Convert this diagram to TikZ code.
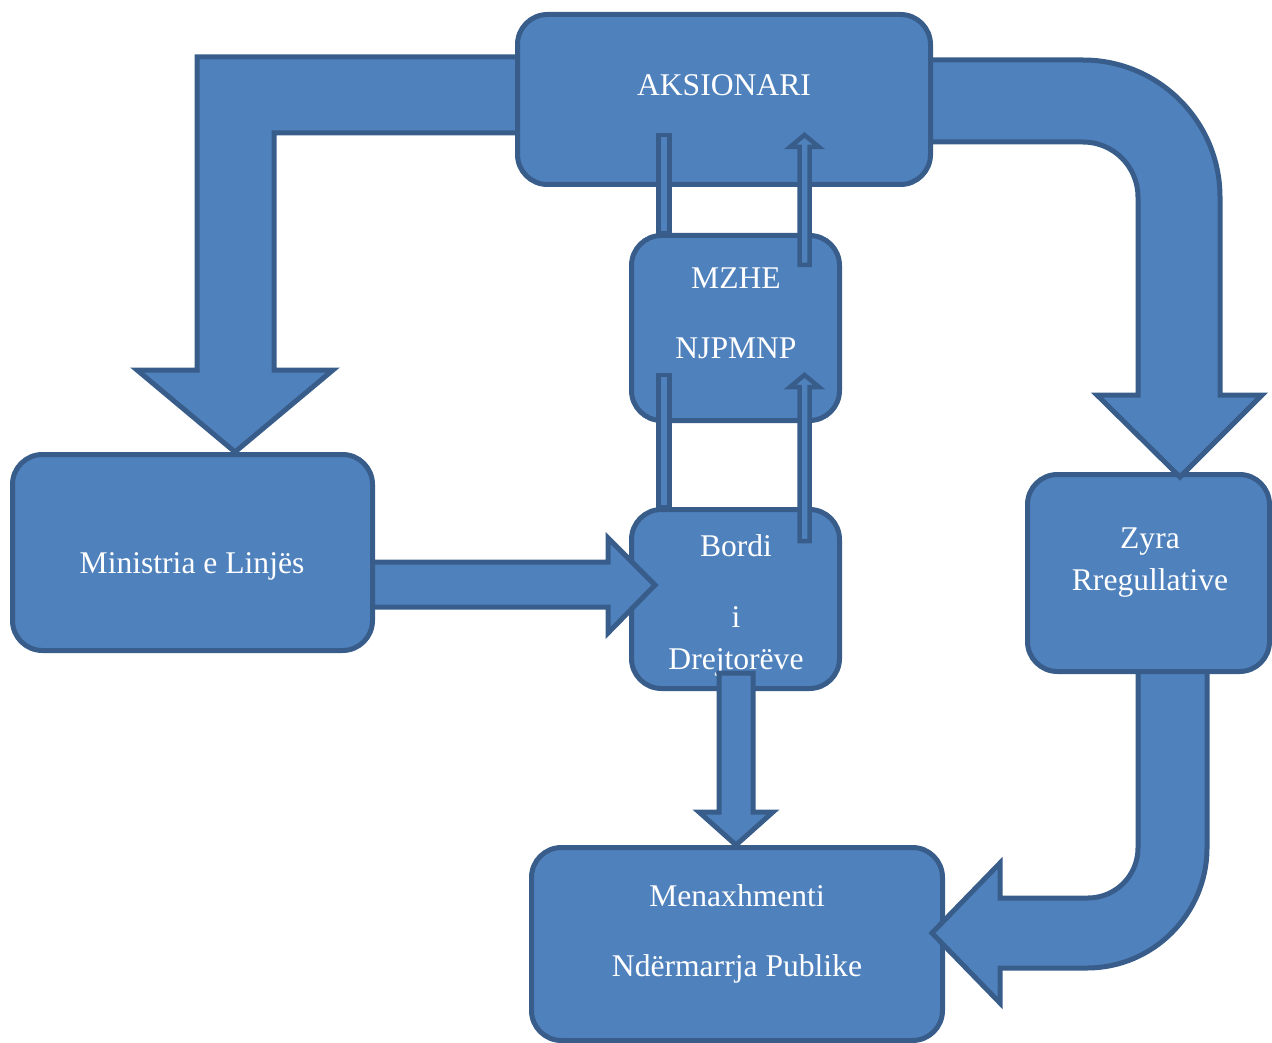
\documentclass[tikz,border=0pt]{standalone}
\usepackage{fontspec}
\setmainfont{Liberation Serif}
\definecolor{boxfill}{HTML}{4F81BD}
\definecolor{boxline}{HTML}{385D8A}
\tikzset{
  box/.style={draw=boxline, fill=boxfill, line width=5pt, rounded corners=30pt, inner sep=0pt},
  blockarrow/.style={draw=boxline, fill=boxfill, line width=5pt, line join=miter},
  thinbar/.style={draw=boxline, fill=boxfill, line width=4.5pt, line join=miter},
  lbl/.style={text=white, font=\fontsize{31.6}{38}\selectfont, anchor=base, inner sep=0pt}
}
\begin{document}
\begin{tikzpicture}[x=1pt,y=-1pt]
\useasboundingbox (0,0) rectangle (1272,1043);
% Menaxhmenti box
\node[box, minimum width=411pt, minimum height=193pt] (menax) at (737,944) {};
\node[lbl] (menaxA) at (737,906) {Menaxhmenti};
\node[lbl] (menaxB) at (737,976) {Ndërmarrja Publike};
% Zyra -> Menaxhmenti bent arrow
\draw[blockarrow] (1138,660) -- (1138,848)
  .. controls (1138,875.6) and (1115.6,898) .. (1088,898)
  -- (1000,898) -- (1000,863) -- (932,933) -- (1000,1003) -- (1000,968) -- (1087,968)
  .. controls (1153,968) and (1207,914) .. (1207,848)
  -- (1207,660) -- cycle;
% Zyra box
\node[box, minimum width=242pt, minimum height=197pt] (zyra) at (1148.5,573) {};
\node[lbl] (zyraA) at (1150,548) {Zyra};
\node[lbl] (zyraB) at (1150,590) {Rregullative};
% Bordi box
\node[box, minimum width=208pt, minimum height=179pt] (bordi) at (735.5,599) {};
\node[lbl] (bordiA) at (736,556) {Bordi};
\node[lbl] (bordiB) at (736,627) {i};
\node[lbl] (bordiC) at (736,669) {Drejtorëve};
% Bordi -> Menaxhmenti arrow
\draw[blockarrow] (719,673) -- (753,673) -- (753,812) -- (773,812) -- (736,845)
  -- (699,812) -- (719,812) -- cycle;
% Ministria -> Bordi arrow
\draw[blockarrow] (350,562) -- (608,562) -- (608,538) -- (655,585) -- (608,633)
  -- (608,607) -- (350,607) -- cycle;
% Ministria box
\node[box, minimum width=360pt, minimum height=196pt] (min) at (192.5,552.5) {};
\node[lbl] (minA) at (192,573) {Ministria e Linjës};
% left bent arrow (AKSIONARI -> Ministria)
\draw[blockarrow] (530,57) -- (197,57) -- (197,370) -- (137,370) -- (235,452)
  -- (333,370) -- (274,370) -- (274,133) -- (530,133) -- cycle;
% right bent arrow (AKSIONARI -> Zyra)
\draw[blockarrow] (920,60) -- (1083,60)
  .. controls (1158.6,60) and (1220,121.4) .. (1220,197)
  -- (1220,395) -- (1262,395) -- (1180,477) -- (1097,395) -- (1138,395) -- (1138,197)
  .. controls (1138,166.6) and (1113.4,142) .. (1083,142)
  -- (920,142) -- cycle;
% AKSIONARI box
\node[box, minimum width=413pt, minimum height=170pt] (aks) at (724,99.5) {};
\node[lbl] (aksA) at (724,96) {AKSIONARI};
% upper thin bar
\draw[thinbar] (658.5,135) rectangle (669.5,233);
% MZHE box
\node[box, minimum width=208pt, minimum height=185pt] (mzhe) at (735.5,328) {};
\node[lbl] (mzheA) at (736,288) {MZHE};
\node[lbl] (mzheB) at (736,358) {NJPMNP};
% upper thin up arrow
\draw[thinbar] (799.5,265) -- (799.5,147) -- (790,147) -- (804.5,135) -- (819,147)
  -- (809.5,147) -- (809.5,265) -- cycle;
% lower thin bar
\draw[thinbar] (658.5,375) rectangle (669.5,507);
% lower thin up arrow
\draw[thinbar] (799.5,541) -- (799.5,387) -- (790,387) -- (804.5,375) -- (819,387)
  -- (809.5,387) -- (809.5,541) -- cycle;
\end{tikzpicture}
\end{document}
